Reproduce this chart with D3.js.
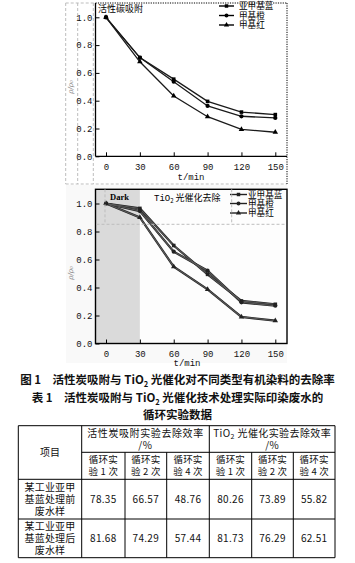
<!DOCTYPE html>
<html><head><meta charset="utf-8">
<script src="https://cdn.jsdelivr.net/npm/d3@7"></script>
<style>body{margin:0;background:#fff}svg{display:block}</style></head>
<body><script>
// ---------- data ----------
const times = [0, 30, 60, 90, 120, 150];
const seriesNames = ["亚甲基蓝", "甲基橙", "甲基红"];
const adsorption = [
  [1.0, 0.71, 0.555, 0.395, 0.318, 0.300],
  [1.0, 0.71, 0.537, 0.362, 0.288, 0.276],
  [1.0, 0.68, 0.434, 0.285, 0.194, 0.173]
];
const photocatalysis = [
  [1.0, 0.965, 0.700, 0.494, 0.304, 0.280],
  [1.0, 0.946, 0.656, 0.520, 0.294, 0.270],
  [1.0, 0.900, 0.549, 0.387, 0.190, 0.163]
];
const yTicks = [0, 0.2, 0.4, 0.6, 0.8, 1.0];
const xTicks = [0, 30, 60, 90, 120, 150];
const darkEnd = 30;
const tableCols = ["循环实|验 1 次", "循环实|验 2 次", "循环实|验 4 次", "循环实|验 1 次", "循环实|验 2 次", "循环实|验 4 次"];
const tableRows = ["某工业亚甲|基蓝处理前|废水样", "某工业亚甲|基蓝处理后|废水样"];
const tableValues = [
  ["78.35", "66.57", "48.76", "80.26", "73.89", "55.82"],
  ["81.68", "74.29", "57.44", "81.73", "76.29", "62.51"]
];

// ---------- drawing ----------
const W = 355, H = 563;
const svg = d3.select("body").append("svg").attr("width", W).attr("height", H);
svg.append("rect").attr("width", W).attr("height", H).attr("fill", "#fff");
const CJK = "'Noto Sans CJK SC', sans-serif";
const MONO = "'Liberation Mono', 'DejaVu Sans Mono', monospace";
const gray = "#bdbdbd";

const x = d3.scaleLinear().domain([0, 150]).range([106, 275.3]);
const yTop = d3.scaleLinear().domain([0, 1]).range([156.3, 17.3]);
const yBot = d3.scaleLinear().domain([0, 1]).range([343.5, 203.5]);

function dash(x1, y1, x2, y2, col, da) {
  svg.append("line").attr("x1", x1).attr("y1", y1).attr("x2", x2).attr("y2", y2)
    .attr("stroke", col || gray).attr("stroke-width", 1).attr("stroke-dasharray", da || "3,2");
}

// gray dashed frame around top chart
dash(65.7, 3, 95, 3); dash(65.7, 3, 65.7, 184); dash(77.7, 3, 77.7, 184); dash(93.3, 3, 93.3, 184);
dash(65.7, 184, 287, 184);
// subtle background of lower chart panel
svg.append("rect").attr("x", 66).attr("y", 185).attr("width", 221).attr("height", 178).attr("fill", "#f9f9f9");

const symbols = [d3.symbolSquare, d3.symbolCircle, d3.symbolTriangle];

function markers(g, data, xs, ys, col) {
  data.forEach((s, i) => {
    const pts = times.map((t, j) => [xs(t), ys(s[j])]);
    g.selectAll(null).data(pts).enter().append("path")
      .attr("transform", d => `translate(${d[0]},${d[1]})`)
      .attr("d", d3.symbol().type(symbols[i]).size(i === 1 ? 14 : 13)).attr("fill", col);
  });
}

function lines(g, data, xs, ys, col, w) {
  const line = d3.line().x((d, j) => xs(times[j])).y(d => ys(d));
  data.forEach(s => g.append("path").attr("d", line(s)).attr("fill", "none")
    .attr("stroke", col).attr("stroke-width", w));
}

function axes(g, ys, bottomY) {
  const ax = d3.axisLeft(ys).tickValues(yTicks).tickFormat(d3.format(".1f")).tickSizeInner(-4).tickSizeOuter(0).tickPadding(3);
  const gy = g.append("g").attr("transform", "translate(95.5,0)").call(ax);
  gy.select(".domain").remove();
  gy.selectAll("text").attr("font-family", MONO).attr("font-size", 9).attr("fill", "#111");
  gy.selectAll("line").attr("stroke", "#000");
  const bx = d3.axisBottom(x).tickValues(xTicks).tickFormat(d3.format("d")).tickSizeInner(-4).tickSizeOuter(0).tickPadding(7);
  const gx = g.append("g").attr("transform", `translate(0,${bottomY})`).call(bx);
  gx.select(".domain").remove();
  gx.selectAll("text").attr("font-family", MONO).attr("font-size", 9).attr("fill", "#111");
  gx.selectAll("line").attr("stroke", "#000");
}

function legend(g, x0, x1, tx, rows, col) {
  const t = g.append("text").attr("font-family", CJK).attr("font-size", 8.6).attr("fill", "#000");
  seriesNames.forEach((n, i) => {
    g.append("line").attr("x1", x0).attr("x2", x1).attr("y1", rows[i]).attr("y2", rows[i])
      .attr("stroke", col).attr("stroke-width", 1.4);
    g.append("path").attr("transform", `translate(${(x0 + x1) / 2},${rows[i]})`)
      .attr("d", d3.symbol().type(symbols[i]).size(12)).attr("fill", col);
    t.append("tspan").attr("x", tx).attr("y", rows[i] + 3).text(n);
  });
}

// ===== top chart =====
const gt = svg.append("g");
gt.append("line").attr("x1", 95.5).attr("x2", 95.5).attr("y1", 3).attr("y2", 156.3).attr("stroke", "#000").attr("stroke-width", 1.3);
gt.append("line").attr("x1", 95.5).attr("x2", 287).attr("y1", 156.3).attr("y2", 156.3).attr("stroke", "#000").attr("stroke-width", 1.3);
dash(95.5, 3, 287, 3, "#000", "1.2,1.2");
dash(287, 3, 287, 184, "#000", "1.2,1.2");
axes(gt, yTop, 156.3);
lines(gt, adsorption, x, yTop, "#1a1a1a", 1.3);
markers(gt, adsorption, x, yTop, "#000");
legend(gt, 219, 234, 239, [6, 15.5, 25], "#000");
gt.append("text").attr("x", 98).attr("y", 9).attr("dy", "0.35em").attr("font-family", CJK).attr("font-size", 9).text("活性碳吸附");
gt.append("text").attr("transform", "translate(71,87) rotate(-90)").attr("text-anchor", "middle").attr("dy", "0.35em")
  .attr("font-family", "'DejaVu Serif', serif").attr("font-style", "italic").attr("font-size", 7).attr("fill", "#888").text("ρ/ρ₀");
gt.append("text").attr("x", 191).attr("y", 177).attr("text-anchor", "middle").attr("dy", "0.35em")
  .attr("font-family", MONO).attr("font-size", 9).attr("fill", "#111").text("t/min");

// ===== bottom chart =====
const gb = svg.append("g");
gb.append("rect").attr("x", 95.5).attr("y", 189.3).attr("width", 191.5).attr("height", 154.2).attr("fill", "#fdfdfd");
gb.append("rect").attr("x", 95.5).attr("y", 189.3).attr("width", x(darkEnd) - 95.5).attr("height", 154.2).attr("fill", "#dadada");
dash(96.5, 224.3, 286, 224.3, gray, "3,2");
dash(105, 189.3, 105, 224.3, gray, "3,2");
dash(231.7, 189.3, 231.7, 224.3, gray, "3,2");
axes(gb, yBot, 343.5);
lines(gb, photocatalysis, x, yBot, "#222", 2.2);
lines(gb, photocatalysis, x, yBot, "#5a5a5a", 1.1);
markers(gb, photocatalysis, x, yBot, "#222");
gb.append("rect").attr("x", 95.5).attr("y", 189.3).attr("width", 191.5).attr("height", 154.2)
  .attr("fill", "none").attr("stroke", "#000").attr("stroke-width", 1.4);
legend(gb, 230, 247, 248, [194.5, 203.5, 213], "#222");
gb.append("text").attr("x", 110).attr("y", 197.5).attr("dy", "0.35em").attr("font-family", "'Liberation Serif', serif")
  .attr("font-weight", "bold").attr("font-size", 8.5).text("Dark");
const tt = gb.append("text").attr("x", 154).attr("y", 198).attr("dy", "0.35em").attr("font-family", CJK).attr("font-size", 9);
tt.append("tspan").attr("font-family", MONO).text("TiO");
tt.append("tspan").attr("font-size", 6).attr("dy", 2).text("2");
tt.append("tspan").attr("dy", -2).text(" 光催化去除");
gb.append("text").attr("transform", "translate(71,273) rotate(-90)").attr("text-anchor", "middle").attr("dy", "0.35em")
  .attr("font-family", "'DejaVu Serif', serif").attr("font-style", "italic").attr("font-size", 7).attr("fill", "#888").text("ρ/ρ₀");
gb.append("text").attr("x", 187).attr("y", 366).attr("text-anchor", "middle")
  .attr("font-family", MONO).attr("font-size", 9).attr("fill", "#111").text("t/min");
svg.append("rect").attr("x", 0).attr("y", 366).attr("width", W).attr("height", 10).attr("fill", "#fff");

// ===== captions =====
function capLine(y, parts) {
  const t = svg.append("text").attr("x", 177.5).attr("y", y).attr("text-anchor", "middle").attr("dy", "0.35em")
    .attr("font-family", CJK).attr("font-weight", "bold").attr("font-size", 11.5).attr("fill", "#111");
  parts.forEach(p => {
    const s = t.append("tspan").text(p[0]);
    if (p[1]) s.attr("font-size", 7.5).attr("dy", 2.5);
    if (p[2]) s.attr("dy", p[2]);
  });
}
capLine(380, [["图 1　活性炭吸附与 TiO"], ["2", true], [" 光催化对不同类型有机染料的去除率", false, -2.5]]);
capLine(398, [["表 1　活性炭吸附与 TiO"], ["2", true], [" 光催化技术处理实际印染废水的", false, -2.5]]);
capLine(415, [["循环实验数据"]]);

// ===== table =====
const tb = svg.append("g");
const colX = [18.3, 81.7, 125, 166.7, 209.3, 251.7, 293.3, 335];
const rowY = [425.7, 452.3, 479.3, 519, 557.7];
function hl(y, x1, x2) { tb.append("line").attr("x1", x1).attr("x2", x2).attr("y1", y).attr("y2", y).attr("stroke", "#000").attr("stroke-width", 1); }
function vl(xx, y1, y2) { tb.append("line").attr("x1", xx).attr("x2", xx).attr("y1", y1).attr("y2", y2).attr("stroke", "#000").attr("stroke-width", 1); }
hl(rowY[0], colX[0], colX[7]); hl(rowY[1], colX[1], colX[7]); hl(rowY[2], colX[0], colX[7]); hl(rowY[3], colX[0], colX[7]); hl(rowY[4], colX[0], colX[7]);
vl(colX[0], rowY[0], rowY[4]); vl(colX[1], rowY[0], rowY[4]); vl(colX[4], rowY[0], rowY[4]); vl(colX[7], rowY[0], rowY[4]);
[2, 3, 5, 6].forEach(i => vl(colX[i], rowY[1], rowY[4]));
// multi-line cell: one text element, one tspan per line
function cell(xx, y0, linesArr, step, fs, ls) {
  const t = tb.append("text").attr("text-anchor", "middle")
    .attr("font-family", CJK).attr("font-size", fs || 10).attr("fill", "#111");
  if (ls) t.attr("letter-spacing", ls);
  linesArr.forEach((s, k) => {
    const ty = y0 + k * step + (fs || 10) * 0.35;
    if (s === "TIO") {
      const sp = t.append("tspan").attr("x", xx).attr("y", ty);
      sp.append("tspan").text("TiO");
      sp.append("tspan").attr("font-size", 7).attr("dy", 2).text("2");
      sp.append("tspan").attr("dy", -2).text(" 光催化实验去除效率");
    } else {
      t.append("tspan").attr("x", xx).attr("y", ty).text(s);
    }
  });
}
cell((colX[0] + colX[1]) / 2, 452, ["项目"], 0);
cell((colX[1] + colX[4]) / 2, 433.3, ["活性炭吸附实验去除效率", "/%"], 11.7, 10, 0.6);
cell((colX[4] + colX[7]) / 2, 433.3, ["TIO", "/%"], 11.7, 10, 0.4);
tableCols.forEach((c, i) => {
  const cx = (colX[i + 1] + colX[i + 2]) / 2;
  cell(cx, 460, c.split("|"), 11.7, 9.5, 0.2);
});
tableRows.forEach((r, i) => {
  const top = rowY[i + 2], bot = rowY[i + 3], mid = (top + bot) / 2;
  cell((colX[0] + colX[1]) / 2, mid - 12, r.split("|"), 12, 10, 0.2);
  tableValues[i].forEach((v, j) => cell((colX[j + 1] + colX[j + 2]) / 2, mid, [v], 0, 10, 0.3));
});
</script></body></html>
